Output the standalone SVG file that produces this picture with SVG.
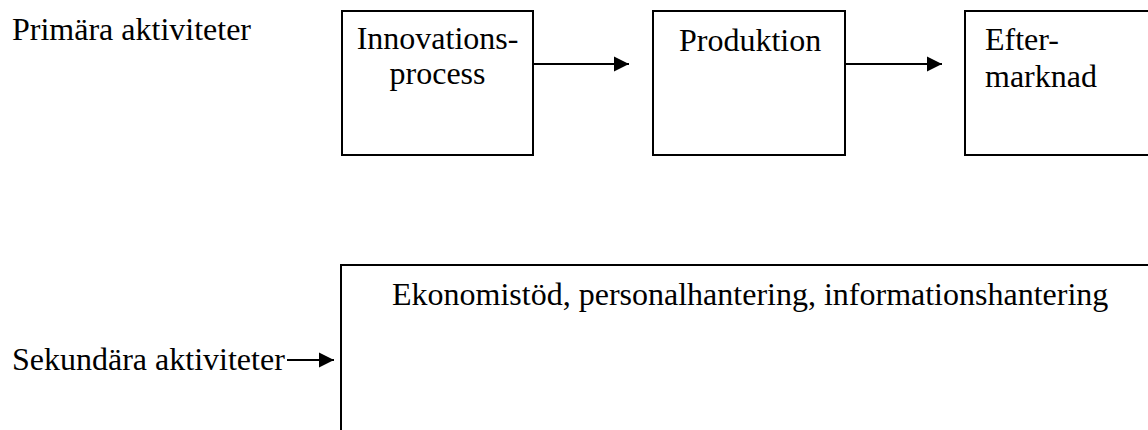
<svg xmlns="http://www.w3.org/2000/svg" width="1148" height="430" viewBox="0 0 1148 430">
<style>
text{font-family:"Liberation Serif","Times New Roman",serif;font-size:32px;fill:#000}
.box{fill:#fff;stroke:#000;stroke-width:2}
.conn{stroke:#000;stroke-width:2;fill:none}
</style>
<defs>
<marker id="ah" markerUnits="userSpaceOnUse" markerWidth="16" markerHeight="16" refX="15" refY="8" orient="auto">
<path d="M0,0.5 L15,8 L0,15.5 Z" fill="#000"/>
</marker>
</defs>
<rect width="1148" height="430" fill="#fff"/>
<g id="label-primara"><text x="12" y="40">Primära aktiviteter</text></g>
<g id="node-innovation">
<rect class="box" x="342" y="11" width="191" height="144"/>
<text x="437.5" y="49" text-anchor="middle">Innovations-</text>
<text x="437.5" y="84" text-anchor="middle">process</text>
</g>
<g id="node-produktion">
<rect class="box" x="653" y="11" width="192" height="144"/>
<text x="679" y="51">Produktion</text>
</g>
<g id="node-eftermarknad">
<rect class="box" x="965" y="11" width="200" height="144"/>
<text x="985" y="50">Efter-</text>
<text x="985" y="87">marknad</text>
</g>
<g id="node-sekundara">
<rect class="box" x="341" y="265" width="830" height="200"/>
<text x="392" y="305">Ekonomistöd, personalhantering, informationshantering</text>
</g>
<g id="label-sekundara"><text x="12" y="370">Sekundära aktiviteter</text></g>
<g id="connectors">
<line class="conn" x1="533" y1="64" x2="629" y2="64" marker-end="url(#ah)"/>
<line class="conn" x1="845" y1="64" x2="942" y2="64" marker-end="url(#ah)"/>
<line class="conn" x1="287" y1="360" x2="334" y2="360" marker-end="url(#ah)"/>
</g>
</svg>
